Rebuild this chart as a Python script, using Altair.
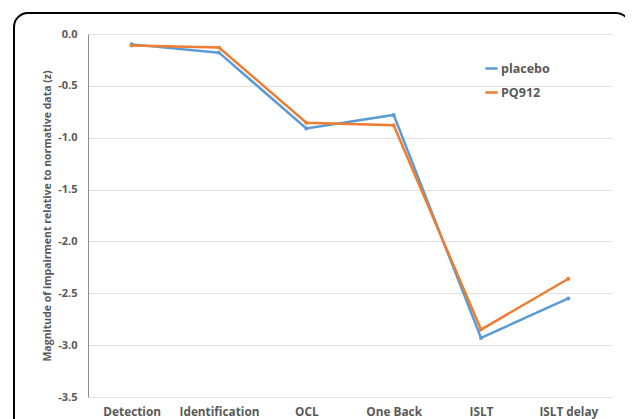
import altair as alt
import pandas as pd

tests = ["Detection", "Identification", "OCL", "One Back", "ISLT", "ISLT delay"]
placebo = [-0.10, -0.18, -0.91, -0.78, -2.93, -2.55]
pq912 = [-0.11, -0.13, -0.855, -0.88, -2.85, -2.36]
series_names = ["placebo", "PQ912"]
colors = ["#5B9BD5", "#ED7D31"]
y_ticks = [0.0, -0.5, -1.0, -1.5, -2.0, -2.5, -3.0, -3.5]

rows = []
for name, vals in zip(series_names, [placebo, pq912]):
    for t, v in zip(tests, vals):
        rows.append({"test": t, "value": v, "group": name})
df = pd.DataFrame(rows)

FONT = "Open Sans"
GRAY = "#595959"

x = alt.X("test:N", sort=tests, title=None,
          scale=alt.Scale(type="point", padding=0.5),
          axis=alt.Axis(labelAngle=0, labelFont=FONT, labelFontWeight="bold",
                        labelFontSize=11.8, labelColor=GRAY, ticks=False,
                        domain=False, labelPadding=9, grid=False))
y = alt.Y("value:Q", title="Magnitude of impairment relative to normative data (z)",
          scale=alt.Scale(domain=[-3.5, 0], nice=False),
          axis=alt.Axis(values=y_ticks, labelExpr="(datum.value < 0 ? '-' : '') + format(abs(datum.value), '.1f')",
                        labelFont=FONT, labelFontWeight="bold", labelFontSize=11, labelColor=GRAY,
                        titleFont=FONT, titleFontWeight="bold", titleFontSize=10.5, titleColor=GRAY,
                        titlePadding=5, ticks=False, domainColor="#8c8c8c", domainWidth=1,
                        gridColor="#e0e0e0", labelPadding=11))
color = alt.Color("group:N", sort=series_names,
                  scale=alt.Scale(domain=series_names, range=colors),
                  legend=alt.Legend(title=None, orient="none", legendX=396, legendY=27,
                                    symbolType="stroke", symbolStrokeWidth=2.5, symbolSize=150,
                                    labelFont=FONT, labelFontWeight="bold", labelFontSize=12.5,
                                    labelColor=GRAY, rowPadding=10, labelOffset=2))

lines = alt.Chart(df).mark_line(strokeWidth=2.5, point=alt.OverlayMarkDef(size=16, filled=True)).encode(
    x=x, y=y, color=color)

frame = alt.Chart(pd.DataFrame({"a": [0]})).mark_rect(
    fill=None, stroke="black", strokeWidth=2, cornerRadius=14, clip=False).encode(
    x=alt.value(-74), x2=alt.value(542), y=alt.value(-21), y2=alt.value(420))

chart = alt.layer(frame, lines).properties(
    width=524, height=363,
    padding={"left": 80, "top": 26, "right": 13, "bottom": 22},
    autosize=alt.AutoSizeParams(type="none"),
).configure_view(stroke=None)

chart.save("out.html", embed_options={"renderer": "svg", "actions": False})
